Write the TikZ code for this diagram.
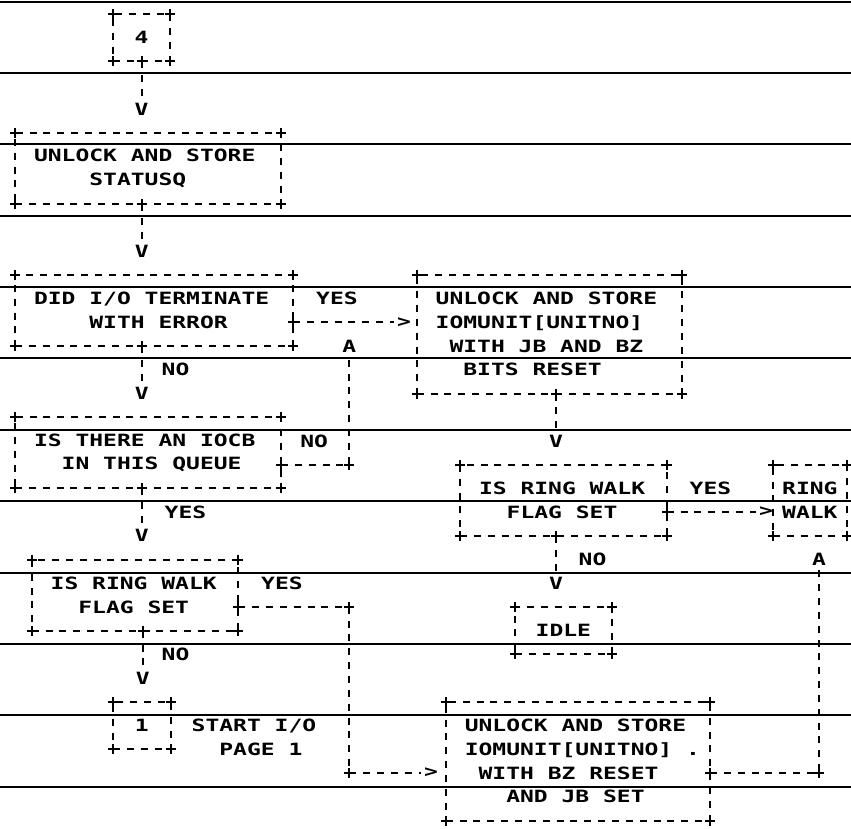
\documentclass[tikz,border=0pt]{standalone}
\usepackage{fontspec}
\newfontfamily\asciifont[FakeStretch=1.36]{DejaVu Sans Mono}
\newcommand{\pad}{\phantom{X}}
\newcommand{\asciisize}{\asciifont\bfseries\fontsize{16.9}{23.72}\selectfont\spaceskip=13.84pt\relax}

\begin{document}
\begin{tikzpicture}[x=1pt, y=-1pt]%[scale=\tikzscale]
  \tikzset{chars/.style={font=\asciisize} }
  \tikzset{link/.style={line width=2pt, dash pattern=on 7pt off 6.85pt} }
  \tikzset{flowbox/.style={chars, draw, link, align=flush left, outer sep=0pt, inner xsep=19pt, inner ysep=0pt} }
  \tikzset{tagbox/.style={chars, draw, link, align=center, outer sep=0pt, inner sep=0pt} }
  \tikzset{word/.style={chars, anchor=west, inner sep=0pt} }
  \tikzset{headchar/.style={chars, inner sep=3pt} }
  \tikzset{corner/.pic={\draw[solid, line width=2pt] (-5,0) -- (5,0) (0,-5) -- (0,5);} }

  \useasboundingbox (0,0) rectangle (851,828);
  \foreach \k in {0,...,11}
    \draw[line width=2pt] (0,{1.5+71.38*\k}) -- (851,{1.5+71.38*\k});

  \node[tagbox, minimum width=57pt, minimum height=47.4pt] (four) at (141.5, 37.7) {4};
  \node[flowbox, text width=228pt, minimum height=71.2pt] (statusq) at (148, 168.2) {UNLOCK AND STORE\\\pad\pad\pad\pad STATUSQ};
  \node[flowbox, text width=240pt, minimum height=71.2pt] (did) at (154, 310.5) {DID I/O TERMINATE\\\pad\pad\pad\pad WITH ERROR};
  \node[flowbox, text width=228pt, minimum height=71.2pt] (iocb) at (148, 452.8) {IS THERE AN IOCB\\\pad\pad IN THIS QUEUE};
  \node[flowbox, text width=168.6pt, minimum height=71.2pt] (ringl) at (135, 595.1) {IS RING WALK\\\pad\pad FLAG SET};
  \node[tagbox, minimum width=57.7pt, minimum height=47.4pt] (one) at (141.8, 725.6) {1};
  \node[word, align=flush left] (page) at (191.5, 737.5) {START I/O\\\pad\pad PAGE 1};

  \node[flowbox, text width=227pt, minimum height=118.6pt] (ioerr) at (549.2, 334.2) {UNLOCK AND STORE\\IOMUNIT[UNITNO]\\\pad WITH JB AND BZ\\\pad\pad BITS RESET};
  \node[flowbox, text width=168.7pt, minimum height=71.2pt] (ringr) at (563.4, 500.3) {IS RING WALK\\\pad\pad FLAG SET};
  \node[tagbox, minimum width=73.7pt, minimum height=71.2pt] (ring) at (809.9, 500.3) {RING\\WALK};
  \node[tagbox, minimum width=96.7pt, minimum height=47.4pt] (idle) at (563.4, 630.7) {IDLE};
  \node[flowbox, text width=226.3pt, minimum height=118.6pt] (final) at (577.9, 761.2) {UNLOCK AND STORE\\IOMUNIT[UNITNO]\rlap{\pad.}\\\pad WITH BZ RESET\\\pad\pad\pad AND JB SET};

  \node[headchar] (v1) at (141.5, 108.9) {V};
  \node[headchar] (v2) at (141.7, 251.2) {V};
  \node[headchar] (v3) at (141.7, 393.5) {V};
  \node[headchar] (v4) at (141.7, 535.8) {V};
  \node[headchar] (v5) at (142.7, 678.2) {V};
  \node[headchar] (v6) at (556, 441) {V};
  \node[headchar] (v7) at (556, 583.3) {V};
  \node[headchar] (gt1) at (404, 322.4) {>};
  \node[headchar] (gt2) at (766, 512.1) {>};
  \node[headchar] (gt3) at (431, 773) {>};
  \node[headchar] (up1) at (349.3, 346.1) {A};
  \node[headchar] (up2) at (819, 559.6) {A};

  \node[word] (didyes) at (316, 298.6) {YES};
  \node[word] (didno) at (161.5, 369.8) {NO};
  \node[word] (iocbno) at (300.2, 441) {NO};
  \node[word] (iocbyes) at (164.5, 512.1) {YES};
  \node[word] (ringlyes) at (261, 583.3) {YES};
  \node[word] (ringlno) at (161.5, 654.4) {NO};
  \node[word] (ringryes) at (689.5, 488.4) {YES};
  \node[word] (ringrno) at (578.5, 559.6) {NO};

  \coordinate (iocbout) at ([yshift=23.72pt]iocb.south east);
  \coordinate (ringlout) at ([yshift=23.72pt]ringl.south east);

  \draw[link] (v1 |- four.south) pic{corner} -- (v1);
  \draw[link] (v2 |- statusq.south) pic{corner} -- (v2);
  \draw[link] (v3 |- did.south) pic{corner} -- (v3);
  \draw[link] (did.east |- gt1) pic{corner} -- (gt1);
  \draw[link] (iocbout) pic{corner} -- (iocbout -| up1) pic{corner} -- (up1);
  \draw[link] (v4 |- iocb.south) pic{corner} -- (v4);
  \draw[link] (ringlout) pic{corner} -- (ringlout -| up1) pic{corner} -- (gt3 -| up1) pic{corner} -- (gt3);
  \draw[link] (v5 |- ringl.south) pic{corner} -- (v5);
  \draw[link] (v6 |- ioerr.south) pic{corner} -- (v6);
  \draw[link] (ringr.east |- gt2) pic{corner} -- (gt2);
  \draw[link] (v7 |- ringr.south) pic{corner} -- (v7);
  \draw[link] (final.east |- gt3) pic{corner} -- (gt3 -| up2) pic{corner} -- (up2);

  \foreach \b in {four, statusq, did, iocb, ringl, one, ioerr, ringr, ring, idle, final}
    \foreach \c in {north west, north east, south west, south east}
      \pic at (\b.\c) {corner};
\end{tikzpicture}
\end{document}
